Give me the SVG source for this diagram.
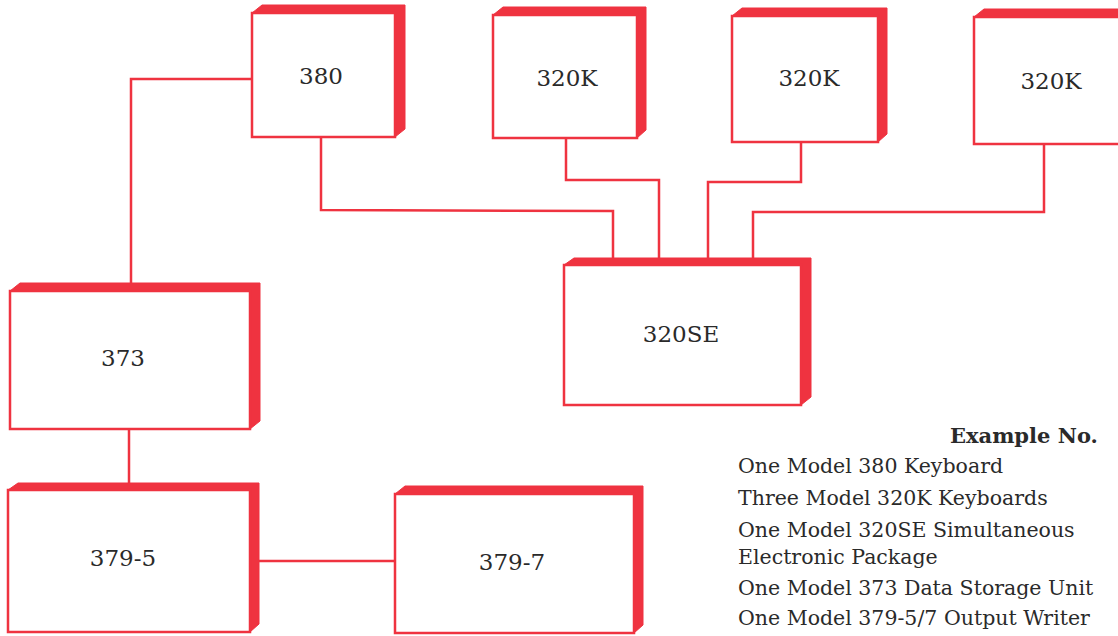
<svg xmlns="http://www.w3.org/2000/svg" width="1118" height="636" viewBox="0 0 1118 636">
<style>
.ext{fill:#ef3340;stroke:#ef3340;stroke-width:1;stroke-linejoin:round}
.face{fill:#ffffff;stroke:#ef3340;stroke-width:2.5}
.lbl{font-family:"DejaVu Serif","Liberation Serif",serif;font-size:23px;fill:#2a2a2a;text-anchor:middle}
.conn{fill:none;stroke:#ef3340;stroke-width:2.5;stroke-linejoin:miter}
.note{font-family:"DejaVu Serif","Liberation Serif",serif;font-size:20.5px;fill:#2a2a2a}
.title{font-family:"DejaVu Serif","Liberation Serif",serif;font-size:21px;font-weight:bold;fill:#2a2a2a}
</style>
<rect width="1118" height="636" fill="#ffffff"/>
<g id="connectors">
<polyline class="conn" points="252,79 131,79 131,284"/>
<polyline class="conn" points="321,137 321,210 613,211 613,262"/>
<polyline class="conn" points="566,138 566,180 659,180 659,262"/>
<polyline class="conn" points="801,142 801,182 708,182 708,262"/>
<polyline class="conn" points="1044,144 1044,212 753,212 753,262"/>
<polyline class="conn" points="129,429 129,486"/>
<polyline class="conn" points="259,561 395,561"/>
</g>
<g id="n380">
<polygon class="ext" points="252,13 262,5 405,5 405,129 395,137 395,13"/>
<rect class="face" x="252" y="13" width="143" height="124"/>
<text class="lbl" x="321" y="84">380</text>
</g>
<g id="n320k1">
<polygon class="ext" points="493,15 503,7 646,7 646,130 637,138 637,15"/>
<rect class="face" x="493" y="15" width="144" height="123"/>
<text class="lbl" x="567" y="86">320K</text>
</g>
<g id="n320k2">
<polygon class="ext" points="732,16 742,8 887,8 887,134 878,142 878,16"/>
<rect class="face" x="732" y="16" width="146" height="126"/>
<text class="lbl" x="809" y="86">320K</text>
</g>
<g id="n320k3">
<polygon class="ext" points="974,17 984,9 1138,9 1138,136 1128,144 1128,17"/>
<rect class="face" x="974" y="17" width="154" height="127"/>
<text class="lbl" x="1051" y="89">320K</text>
</g>
<g id="n320se">
<polygon class="ext" points="564,265 574,258 811,258 811,397 801,405 801,265"/>
<rect class="face" x="564" y="265" width="237" height="140"/>
<text class="lbl" x="681" y="342">320SE</text>
</g>
<g id="n373">
<polygon class="ext" points="10,291 20,283 260,283 260,421 250,429 250,291"/>
<rect class="face" x="10" y="291" width="240" height="138"/>
<text class="lbl" x="123" y="366">373</text>
</g>
<g id="n3795">
<polygon class="ext" points="8,490 18,483 259,483 259,624 250,632 250,490"/>
<rect class="face" x="8" y="490" width="242" height="142"/>
<text class="lbl" x="123" y="566">379-5</text>
</g>
<g id="n3797">
<polygon class="ext" points="395,494 405,486 643,486 643,625 634,633 634,494"/>
<rect class="face" x="395" y="494" width="239" height="139"/>
<text class="lbl" x="512" y="570">379-7</text>
</g>
<g id="legend">
<text class="title" x="950" y="443">Example No.</text>
<text class="note" x="738" y="473">One Model 380 Keyboard</text>
<text class="note" x="738" y="505">Three Model 320K Keyboards</text>
<text class="note" x="738" y="537">One Model 320SE Simultaneous</text>
<text class="note" x="738" y="564">Electronic Package</text>
<text class="note" x="738" y="595">One Model 373 Data Storage Unit</text>
<text class="note" x="738" y="625">One Model 379-5/7 Output Writer</text>
</g>
</svg>
